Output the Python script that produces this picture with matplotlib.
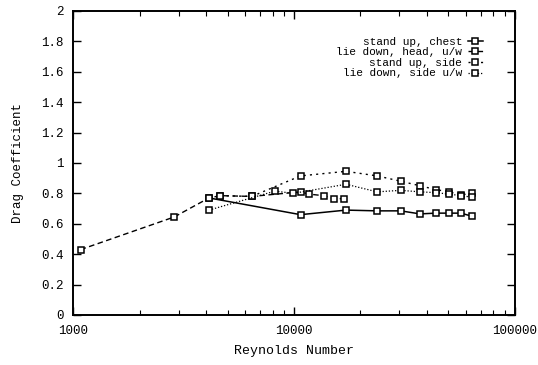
import matplotlib
matplotlib.use("Agg")
import matplotlib.pyplot as plt
from matplotlib.ticker import FixedLocator, FixedFormatter, LogLocator, NullFormatter

# Data
x_chest = [4120, 10700, 17200, 23800, 30400, 37200, 43800, 50500, 57000, 63800]
y_chest = [0.77, 0.66, 0.69, 0.685, 0.685, 0.665, 0.67, 0.67, 0.67, 0.65]

x_head = [1080, 2870, 4120, 4640, 6440, 10700, 11700, 13600, 15200, 16900]
y_head = [0.43, 0.645, 0.77, 0.785, 0.78, 0.81, 0.795, 0.785, 0.765, 0.765]

x_side = [4640, 6440, 10700, 17200, 23800, 30400, 37200, 43800, 50500, 57000, 63800]
y_side = [0.785, 0.78, 0.915, 0.945, 0.915, 0.88, 0.85, 0.825, 0.81, 0.79, 0.80]

x_side_uw = [4120, 8200, 9930, 17200, 23800, 30400, 37200, 43800, 50500, 57000, 63800]
y_side_uw = [0.69, 0.815, 0.80, 0.86, 0.81, 0.82, 0.81, 0.805, 0.795, 0.785, 0.775]

labels = ["stand up, chest", "lie down, head, u/w", "stand up, side", "lie down, side u/w"]
y_ticks = [0, 0.2, 0.4, 0.6, 0.8, 1, 1.2, 1.4, 1.6, 1.8, 2]
y_tick_labels = ["0", "0.2", "0.4", "0.6", "0.8", "1", "1.2", "1.4", "1.6", "1.8", "2"]
x_ticks = [1000, 10000, 100000]
x_tick_labels = ["1000", "10000", "100000"]

plt.rcParams['font.family'] = ['Liberation Mono', 'DejaVu Sans Mono']

fig = plt.figure(figsize=(5.38, 3.65), dpi=100)
ax = fig.add_axes([0.136, 0.137, 0.821, 0.833])

mk = dict(marker='s', markersize=5, markerfacecolor='white', markeredgecolor='black',
          markeredgewidth=1.1, color='black')
ax.plot(x_chest, y_chest, linestyle='-', linewidth=1.1, label=labels[0], **mk)
ax.plot(x_head, y_head, linestyle=(0, (4, 2.5)), linewidth=1.0, label=labels[1], **mk)
ax.plot(x_side, y_side, linestyle=(0, (1.5, 3)), linewidth=1.0, label=labels[2], **mk)
ax.plot(x_side_uw, y_side_uw, linestyle=(0, (1, 1.5)), linewidth=0.9, label=labels[3], **mk)

ax.set_xscale('log')
ax.set_xlim(1000, 100000)
ax.set_ylim(0, 2)
ax.xaxis.set_major_locator(FixedLocator(x_ticks))
ax.xaxis.set_major_formatter(FixedFormatter(x_tick_labels))
ax.xaxis.set_minor_locator(LogLocator(base=10, subs=range(2, 10)))
ax.xaxis.set_minor_formatter(NullFormatter())
ax.yaxis.set_major_locator(FixedLocator(y_ticks))
ax.yaxis.set_major_formatter(FixedFormatter(y_tick_labels))

ax.tick_params(which='both', direction='in', top=True, right=True, labelsize=9, pad=7)
ax.tick_params(which='major', length=6, width=1.0)
ax.tick_params(which='minor', length=3.5, width=0.8)
for s in ax.spines.values():
    s.set_linewidth(1.4)

ax.set_xlabel("Reynolds Number", fontsize=9.5, labelpad=6)
ax.set_ylabel("Drag Coefficient", fontsize=9, labelpad=12)

leg = ax.legend(loc='upper right', bbox_to_anchor=(0.928, 0.915), frameon=False,
                markerfirst=False, fontsize=8, handlelength=1.4, handletextpad=0.5,
                labelspacing=0.05, borderaxespad=0, borderpad=0)
for t in leg.get_texts():
    t.set_ha('right')
leg._legend_box.align = 'right'

fig.savefig("out.png", dpi=100)
